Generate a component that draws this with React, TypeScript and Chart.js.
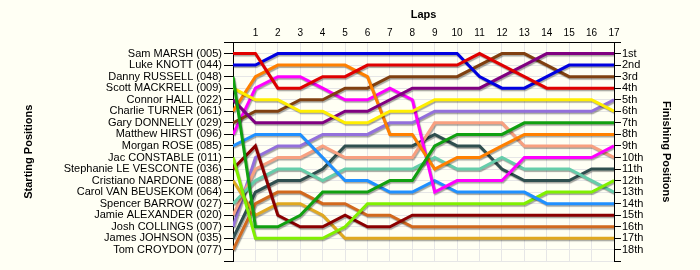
import React, { useEffect, useRef } from "react";
import { Chart, registerables } from "chart.js";

Chart.register(...registerables);

const laps: number[] = [0, 1, 2, 3, 4, 5, 6, 7, 8, 9, 10, 11, 12, 13, 14, 15, 16, 17];

const startingNames: string[] = [
  "Sam MARSH (005)",
  "Luke KNOTT (044)",
  "Danny RUSSELL (048)",
  "Scott MACKRELL (009)",
  "Connor HALL (022)",
  "Charlie TURNER (061)",
  "Gary DONNELLY (029)",
  "Matthew HIRST (096)",
  "Morgan ROSE (085)",
  "Jac CONSTABLE (011)",
  "Stephanie LE VESCONTE (036)",
  "Cristiano NARDONE (088)",
  "Carol VAN BEUSEKOM (064)",
  "Spencer BARROW (027)",
  "Jamie ALEXANDER (020)",
  "Josh COLLINGS (007)",
  "James JOHNSON (035)",
  "Tom CROYDON (077)",
];

const finishLabels: string[] = [
  "1st", "2nd", "3rd", "4th", "5th", "6th", "7th", "8th", "9th", "10th",
  "11th", "12th", "13th", "14th", "15th", "16th", "17th", "18th",
];

// positions per lap (lap 0 = grid position)
const posRed: number[] = [1, 1, 4, 4, 3, 3, 2, 2, 2, 2, 2, 1, 2, 3, 4, 4, 4, 4];
const posBlue: number[] = [2, 2, 1, 1, 1, 1, 1, 1, 1, 1, 1, 3, 4, 4, 3, 2, 2, 2];
const posGreen: number[] = [3, 16, 16, 15, 13, 13, 13, 12, 12, 9, 8, 8, 8, 7, 7, 7, 7, 7];
const posYellow: number[] = [4, 5, 5, 6, 6, 7, 7, 6, 6, 5, 5, 5, 5, 5, 5, 5, 5, 6];
const posPurple: number[] = [5, 7, 7, 7, 7, 6, 6, 5, 4, 4, 4, 4, 3, 2, 1, 1, 1, 1];
const posOrange: number[] = [6, 3, 2, 2, 2, 2, 3, 8, 8, 11, 10, 10, 9, 8, 8, 8, 8, 8];
const posBrown: number[] = [7, 6, 6, 5, 5, 4, 4, 3, 3, 3, 3, 2, 1, 1, 2, 3, 3, 3];
const posMagenta: number[] = [8, 4, 3, 3, 4, 5, 5, 4, 5, 13, 12, 12, 12, 10, 10, 10, 10, 9];
const posDodger: number[] = [9, 8, 8, 8, 10, 12, 12, 13, 13, 12, 13, 13, 13, 13, 14, 14, 14, 14];
const posLime: number[] = [10, 17, 17, 17, 17, 16, 14, 14, 14, 14, 14, 14, 14, 14, 13, 13, 13, 12];
const posMaroon: number[] = [11, 9, 15, 16, 16, 15, 16, 16, 15, 15, 15, 15, 15, 15, 15, 15, 15, 15];
const posGoldenrod: number[] = [12, 15, 14, 14, 15, 17, 17, 17, 17, 17, 17, 17, 17, 17, 17, 17, 17, 17];
const posTeal: number[] = [14, 12, 11, 11, 12, 11, 11, 11, 11, 10, 11, 11, 10, 11, 11, 11, 12, 13];
const posSalmon: number[] = [15, 11, 10, 10, 9, 10, 10, 10, 10, 7, 7, 7, 7, 9, 9, 9, 9, 10];
const posLavender: number[] = [16, 10, 9, 9, 8, 8, 8, 7, 7, 6, 6, 6, 6, 6, 6, 6, 6, 5];
const posSlate: number[] = [17, 13, 12, 12, 11, 9, 9, 9, 9, 8, 9, 9, 11, 12, 12, 12, 11, 11];
const posChocolate: number[] = [18, 14, 13, 13, 14, 14, 15, 15, 16, 16, 16, 16, 16, 16, 16, 16, 16, 16];

const seriesList: { pos: number[]; color: string }[] = [
  { pos: posRed, color: "#e00000" },
  { pos: posBlue, color: "#0000e0" },
  { pos: posGreen, color: "#10a010" },
  { pos: posYellow, color: "#ffee00" },
  { pos: posPurple, color: "#800080" },
  { pos: posOrange, color: "#ff8000" },
  { pos: posBrown, color: "#804010" },
  { pos: posMagenta, color: "#ff00ff" },
  { pos: posDodger, color: "#2090ff" },
  { pos: posLime, color: "#80f000" },
  { pos: posMaroon, color: "#8b0000" },
  { pos: posGoldenrod, color: "#e0a820" },
  { pos: posTeal, color: "#66cdaa" },
  { pos: posSalmon, color: "#f8a080" },
  { pos: posLavender, color: "#9370db" },
  { pos: posSlate, color: "#2f4f4f" },
  { pos: posChocolate, color: "#d2691e" },
];

const FONT = "'Liberation Sans', Arial, sans-serif";

export default function App() {
  const ref = useRef<HTMLCanvasElement | null>(null);
  useEffect(() => {
    document.body.style.margin = "0";
    const canvas = ref.current;
    if (!canvas) return;
    const bg = {
      id: "bg",
      beforeDraw(chart: any) {
        const c = chart.ctx;
        c.save();
        c.fillStyle = "#fffff4";
        c.fillRect(0, 0, chart.width, chart.height);
        c.restore();
      },
    };
    const shadow = {
      id: "lineShadow",
      beforeDatasetDraw(chart: any) {
        const c = chart.ctx;
        c.save();
        c.shadowColor = "rgba(0,0,0,0.35)";
        c.shadowOffsetX = 1;
        c.shadowOffsetY = 1.5;
        c.shadowBlur = 1;
      },
      afterDatasetDraw(chart: any) {
        chart.ctx.restore();
      },
    };
    const chart = new Chart(canvas, {
      type: "line",
      data: {
        datasets: seriesList.map((s) => ({
          data: s.pos.map((p, i) => ({ x: laps[i], y: p })),
          borderColor: s.color,
          backgroundColor: s.color,
          borderWidth: 3,
          pointRadius: 0,
          tension: 0,
          fill: false,
        })),
      },
      options: {
        responsive: false,
        animation: false,
        layout: { padding: { left: 0, right: 0, top: 0, bottom: 8 } },
        plugins: { legend: { display: false }, tooltip: { enabled: false } },
        scales: {
          x: {
            type: "linear",
            position: "top",
            min: 0,
            max: 17,
            ticks: {
              stepSize: 1,
              autoSkip: false,
              maxRotation: 0,
              padding: 3,
              color: "#000",
              font: { family: FONT, size: 10 },
              callback: (v: any) => (v === 0 ? "" : String(v)),
            },
            grid: { color: "#e6e6e6", drawTicks: false },
            border: { color: "#000", width: 1 },
            title: {
              display: true,
              text: "Laps",
              color: "#000",
              font: { family: FONT, size: 11, weight: "bold" },
              padding: { top: 8, bottom: 0 },
            },
            afterFit: (s: any) => {
              s.height = 42;
            },
          },
          y: {
            type: "linear",
            position: "left",
            reverse: true,
            min: 0,
            max: 19,
            ticks: {
              stepSize: 1,
              autoSkip: false,
              padding: 2,
              color: "#000",
              font: { family: FONT, size: 11 },
              callback: (v: any) => startingNames[v - 1] ?? "",
            },
            grid: { color: "#e6e6e6", tickColor: "#000", tickLength: 9 },
            border: { color: "#000", width: 1 },
            title: {
              display: true,
              text: "Starting Positions",
              color: "#000",
              font: { family: FONT, size: 11, weight: "bold" },
              padding: { top: 22, bottom: 0 },
            },
            afterFit: (s: any) => {
              s.width = 233;
            },
          },
          y2: {
            type: "linear",
            position: "right",
            reverse: true,
            min: 0,
            max: 19,
            ticks: {
              stepSize: 1,
              autoSkip: false,
              padding: 1,
              color: "#000",
              font: { family: FONT, size: 11 },
              callback: (v: any) => finishLabels[v - 1] ?? "",
            },
            grid: { drawOnChartArea: false, tickColor: "#000", tickLength: 7 },
            border: { color: "#000", width: 1 },
            title: {
              display: true,
              text: "Finishing Positions",
              color: "#000",
              font: { family: FONT, size: 11, weight: "bold" },
              padding: { top: 27, bottom: 0 },
            },
            afterFit: (s: any) => {
              s.width = 86;
            },
          },
        },
      },
      plugins: [bg, shadow],
    } as any);
    return () => chart.destroy();
  }, []);
  return (
    <canvas
      ref={ref}
      width={700}
      height={270}
      style={{ display: "block", width: 700, height: 270 }}
    />
  );
}
